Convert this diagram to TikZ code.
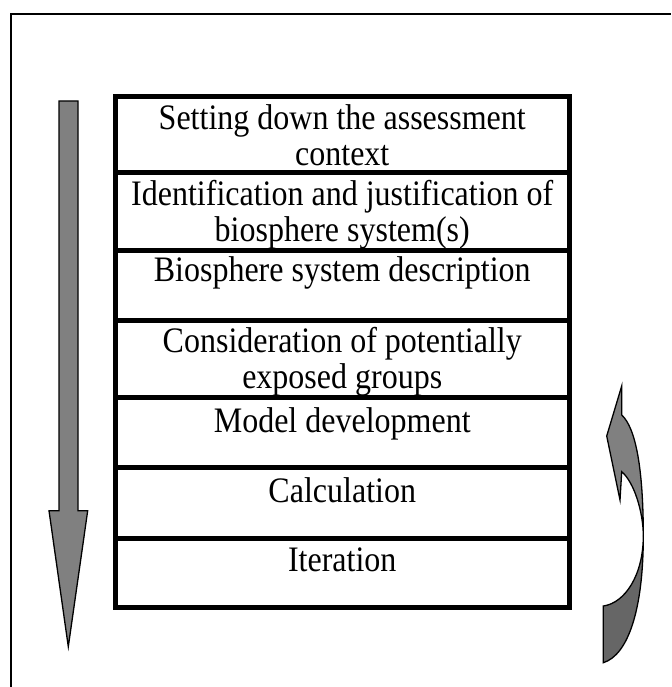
\documentclass[tikz,border=0pt]{standalone}
\usepackage{fontspec}
\usepackage{graphicx}
\setmainfont{Liberation Serif}
\usetikzlibrary{calc}
\definecolor{arrowlight}{HTML}{808080}
\definecolor{arrowdark}{HTML}{666666}
% text lines are set slightly taller than wide
\newcommand{\stretchline}[1]{\scalebox{1}[1.12]{#1}}
\begin{document}
\begin{tikzpicture}[x=1pt,y=-1pt,
  frame/.style={line width=1.5pt},
  stepbox/.style={draw, line width=5pt, rectangle, inner sep=0pt, outer sep=0pt, minimum width=454.5pt},
  steptext/.style={anchor=north, inner sep=0pt, align=center, font=\fontsize{32}{36}\selectfont},
  flowarrow/.style={draw=black, line width=1.3pt, line join=miter}
]
\useasboundingbox (0,0) rectangle (671,687);

% page frame (top and left edges)
\draw[frame] (11,687) -- (11,14) -- (671,14);

% stack of assessment steps
\node[stepbox, minimum height=76pt]   (s1) at (342.25,134.5)  {};
\node[stepbox, minimum height=77.5pt] (s2) at (342.25,211.25) {};
\node[stepbox, minimum height=70pt]   (s3) at (342.25,285)    {};
\node[stepbox, minimum height=77.5pt] (s4) at (342.25,358.75) {};
\node[stepbox, minimum height=70pt]   (s5) at (342.25,432.5)  {};
\node[stepbox, minimum height=71pt]   (s6) at (342.25,503)    {};
\node[stepbox, minimum height=69pt]   (s7) at (342.25,573)    {};

\node[steptext] (t1) at ($(s1.north)+(0,8)$) {\stretchline{Setting down the assessment}\\\stretchline{context}};
\node[steptext] (t2) at ($(s2.north)+(0,8)$) {\stretchline{Identification and justification of}\\\stretchline{biosphere system(s)}};
\node[steptext] (t3) at ($(s3.north)+(0,6)$) {\stretchline{Biosphere system description}};
\node[steptext] (t4) at ($(s4.north)+(0,7)$) {\stretchline{Consideration of potentially}\\\stretchline{exposed groups}};
\node[steptext] (t5) at ($(s5.north)+(0,9.5)$) {\stretchline{Model development}};
\node[steptext] (t6) at ($(s6.north)+(0,9.5)$) {\stretchline{Calculation}};
\node[steptext] (t7) at ($(s7.north)+(0,9.5)$) {\stretchline{Iteration}};

% straight downward arrow on the left
\draw[flowarrow, fill=arrowlight]
  (59,101) -- (78,101) -- (78,510.7) -- (87.7,510.7) -- (68.3,646.7)
  -- (49,510.7) -- (59,510.7) -- cycle;

% curved return arrow on the right: back (dark) part
\draw[flowarrow, fill=arrowdark]
  (643.3,536) .. controls (643.3,610) and (628,655) .. (603.3,662.7)
  -- (603.3,606) .. controls (625,603) and (643.3,575) .. (643.3,536) -- cycle;

% curved return arrow on the right: front (light) part with head
\draw[flowarrow, fill=arrowlight]
  (621.7,386) -- (621.7,415) .. controls (636,428) and (643.3,470) .. (643.3,536)
  .. controls (643.3,512) and (634,482) .. (621.7,471.7)
  -- (620,500) -- (606.7,436) -- cycle;
\end{tikzpicture}
\end{document}
